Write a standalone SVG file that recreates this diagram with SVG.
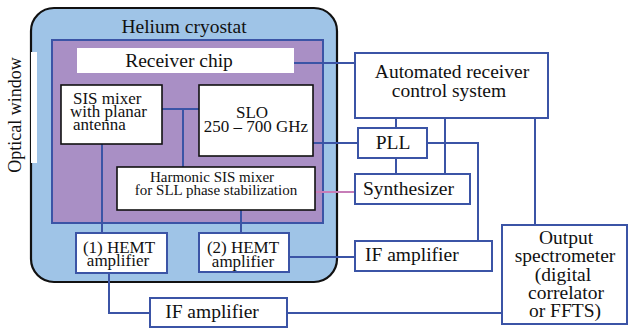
<svg xmlns="http://www.w3.org/2000/svg" width="628" height="329" viewBox="0 0 628 329" font-family="Liberation Serif, Times New Roman, Times, serif">
<style>
text{font-family:'Liberation Serif','Times New Roman',Times,serif;fill:#111;}
.c{text-anchor:middle;}
.b{fill:#fff;stroke:#3b54a6;stroke-width:2;}
.k{fill:#fff;stroke:#111;stroke-width:1.6;}
.ln{fill:none;stroke:#3b54a6;stroke-width:2;}
.L{font-size:19.5px;}
.M{font-size:17px;}
.S{font-size:15px;}
</style>
<rect width="628" height="329" fill="#fff"/>
<g id="cryostat">
<rect x="31" y="8" width="306" height="274" rx="23" fill="#9fc4e7" stroke="#111" stroke-width="2.2"/>
<text class="c L" x="184" y="33">Helium cryostat</text>
</g>
<g id="optical-window">
<rect x="31" y="52" width="6" height="111" fill="#fff"/>
<text class="c" font-size="18" transform="translate(21,115) rotate(-90)">Optical window</text>
</g>
<g id="receiver-chip-area">
<rect x="52" y="40" width="271" height="183" fill="#a98fc5" stroke="#3b54a6" stroke-width="2"/>
</g>
<g id="connectors">
<path class="ln" d="M294 63H355"/>
<path class="ln" d="M162 109H199M183 109V167"/>
<path class="ln" d="M102 144V233"/>
<path class="ln" d="M313 143H358"/>
<path class="ln" d="M241 210V233"/>
<path class="ln" d="M289 257H355"/>
<path class="ln" d="M109 273V313H150"/>
<path class="ln" d="M287 313H502"/>
<path class="ln" d="M396 118V128M396 158V174"/>
<path class="ln" d="M445 118V174"/>
<path class="ln" d="M427 143H478V241"/>
<path class="ln" d="M535 118V225"/>
<path d="M315 192H355" fill="none" stroke="#c77db8" stroke-width="2"/>
</g>
<g id="receiver-chip">
<rect x="77" y="48" width="217" height="25" fill="#fff"/>
<text class="c L" x="179" y="67">Receiver chip</text>
</g>
<g id="sis-mixer">
<rect class="k" x="61" y="85" width="101" height="59"/>
<text class="M" x="73" y="104">SIS mixer</text>
<text class="M" x="70" y="117">with planar</text>
<text class="M" x="73" y="130">antenna</text>
</g>
<g id="slo">
<rect class="k" x="199" y="85" width="114" height="71"/>
<text class="c M" x="252" y="118">SLO</text>
<text class="c M" x="256" y="132">250 – 700 GHz</text>
</g>
<g id="harmonic-mixer">
<rect class="k" x="117" y="167" width="198" height="43"/>
<text class="c S" x="212" y="182">Harmonic SIS mixer</text>
<text class="c S" x="216" y="195">for SLL phase stabilization</text>
</g>
<g id="hemt1">
<rect class="b" x="76" y="233" width="91" height="40"/>
<text class="c M" x="119" y="253">(1) HEMT</text>
<text class="c M" x="118" y="266">amplifier</text>
</g>
<g id="hemt2">
<rect class="b" x="199" y="233" width="90" height="39"/>
<text class="c M" x="243" y="253">(2) HEMT</text>
<text class="c M" x="243" y="267">amplifier</text>
</g>
<g id="automated-control">
<rect class="b" x="355" y="53" width="193" height="65"/>
<text class="c L" x="452" y="78">Automated receiver</text>
<text class="c L" x="449" y="97">control system</text>
</g>
<g id="pll">
<rect class="b" x="358" y="128" width="69" height="30"/>
<text class="c L" x="393" y="149">PLL</text>
</g>
<g id="synthesizer">
<rect class="b" x="355" y="174" width="115" height="30"/>
<text class="L" x="363" y="195">Synthesizer</text>
</g>
<g id="if-amplifier-1">
<rect class="b" x="355" y="241" width="137" height="30"/>
<text class="L" x="365" y="261">IF amplifier</text>
</g>
<g id="if-amplifier-2">
<rect class="b" x="150" y="298" width="137" height="29"/>
<text class="c L" x="212" y="318">IF amplifier</text>
</g>
<g id="output-spectrometer">
<rect class="b" x="502" y="225" width="125" height="99"/>
<text class="c L" x="566" y="244">Output</text>
<text class="c L" x="565" y="262">spectrometer</text>
<text class="c L" x="563" y="281">(digital</text>
<text class="c L" x="566" y="299">correlator</text>
<text class="c L" x="565" y="317">or FFTS)</text>
</g>
</svg>
